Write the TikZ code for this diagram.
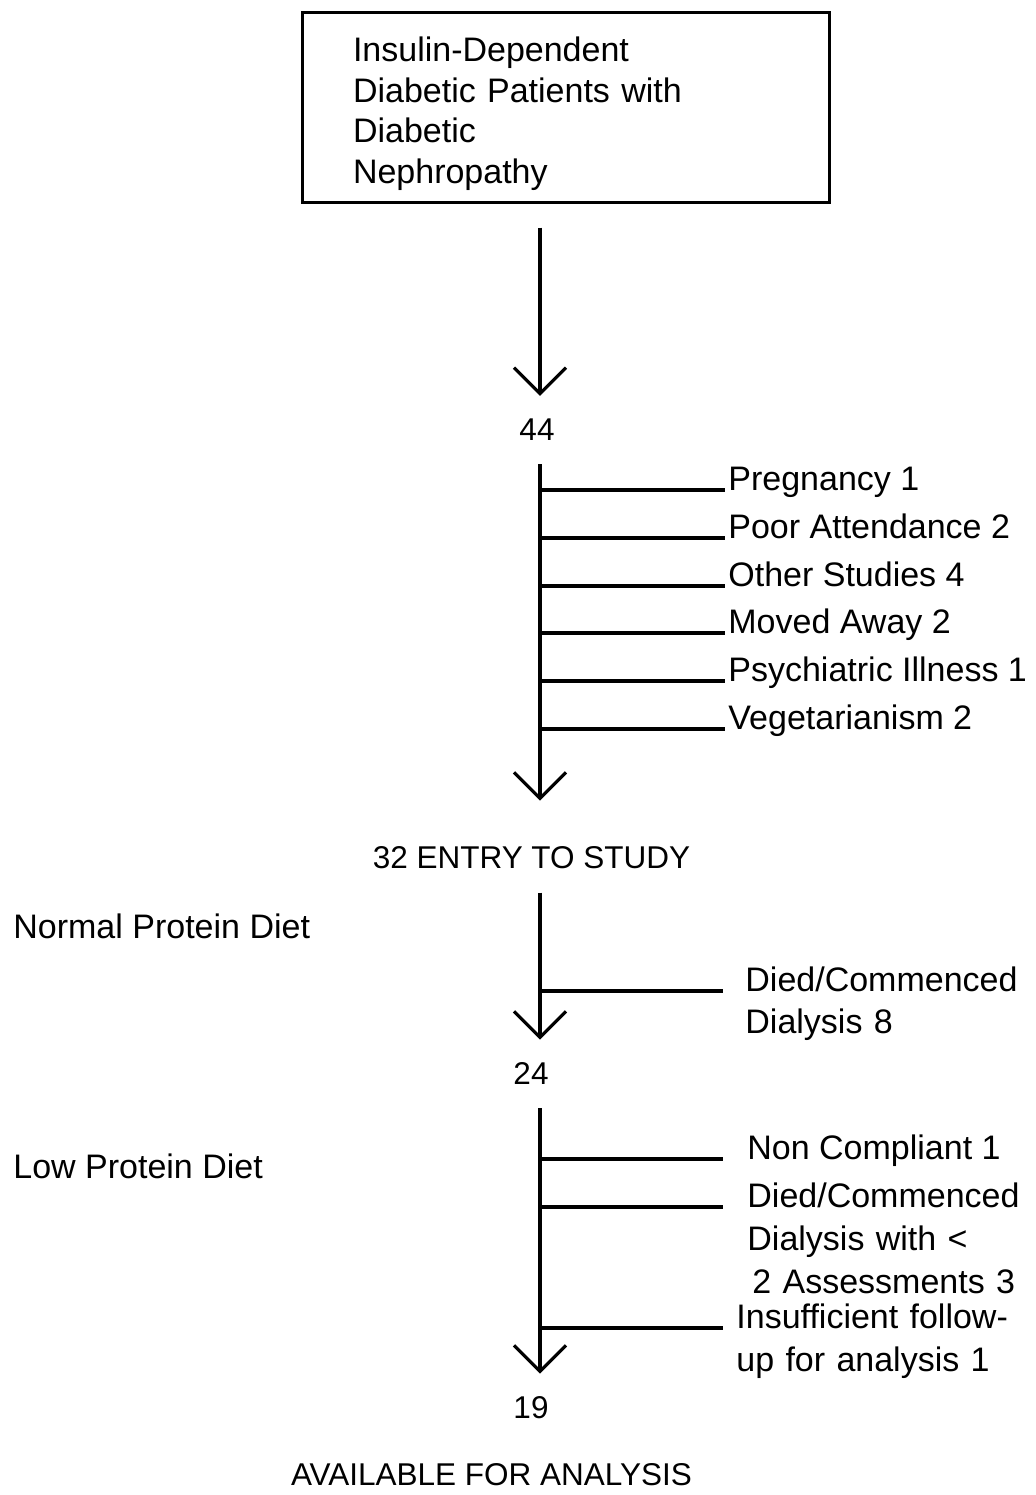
\documentclass[tikz,border=0pt]{standalone}
\usepackage{fontspec}
\setmainfont{Liberation Sans}
\usetikzlibrary{arrows.meta}

\begin{document}
\begin{tikzpicture}[
        x=0.5pt, y=-0.5pt,
        every node/.style={inner sep=0pt, font=\fontsize{17}{21}\selectfont},
        startbox/.style={draw, line width=1.5pt, text width=212.5pt, inner xsep=25.5pt, minimum height=95pt, align=left, text depth=58pt, font=\fontsize{17}{20.35}\selectfont},
        count/.style={anchor=base, font=\fontsize{15.75}{18}\selectfont},
        reason/.style={anchor=base west, inner xsep=1.5pt},
        reasonblock/.style={anchor=base west, align=left, text width=160pt},
        flow/.style={-{Straight Barb[length=13pt,width=26pt]}, line width=1.6pt, shorten <=12pt, shorten >=11pt},
        branch/.style={line width=1.8pt},
]
        \useasboundingbox (0,0) rectangle (1035,1495);
        \coordinate (axis) at (540,0);

        \node[startbox] (patients) at (565.5,107) {Insulin-Dependent\\Diabetic Patients with\\Diabetic\\Nephropathy};
        \node[count] (fortyfour) at (537,440) {44};

        \node[reason] (pregnancy) at (725,490) {Pregnancy 1};
        \node[reason] (attendance) at (725,538) {Poor Attendance 2};
        \node[reason] (otherstudies) at (725,586) {Other Studies 4};
        \node[reason] (movedaway) at (725,633) {Moved Away 2};
        \node[reason] (psychiatric) at (725,681) {Psychiatric Illness 1};
        \node[reason] (vegetarian) at (725,729) {Vegetarianism 2};

        \node[count] (entry) at (531.5,868) {32 ENTRY TO STUDY};
        \node[anchor=base west] (normaldiet) at (13,938) {Normal Protein Diet};
        \node[reasonblock, inner xsep=11pt] (diednormal) at (723,991) {Died/Commenced\\Dialysis 8};
        \node[count] (twentyfour) at (531,1084) {24};

        \node[anchor=base west] (lowdiet) at (13,1178) {Low Protein Diet};
        \node[reason, inner xsep=12pt] (noncompliant) at (723,1159) {Non Compliant 1};
        \node[reasonblock, inner xsep=12pt, font=\fontsize{17}{21.5}\selectfont] (diedlow) at (723,1207) {Died/Commenced\\Dialysis with <\\\hspace*{2.5pt}2 Assessments 3};
        \node[reasonblock, inner xsep=6.5pt, font=\fontsize{17}{21.5}\selectfont] (insufficient) at (723,1328) {Insufficient follow-\\up for analysis 1};
        \node[count] (nineteen) at (531,1418) {19};
        \node[count] (available) at (491.5,1485) {AVAILABLE FOR ANALYSIS};

        \draw[flow] (patients.south -| axis) -- (fortyfour.north -| axis);
        \draw[flow, shorten >=22.5pt] (fortyfour.south -| axis) -- (entry.north -| axis);
        \draw[flow] (entry.south -| axis) -- (twentyfour.north -| axis);
        \draw[flow] (twentyfour.south -| axis) -- (nineteen.north -| axis);

        \draw[branch] (pregnancy.base west -| axis) -- (pregnancy.base west);
        \draw[branch] (attendance.base west -| axis) -- (attendance.base west);
        \draw[branch] (otherstudies.base west -| axis) -- (otherstudies.base west);
        \draw[branch] (movedaway.base west -| axis) -- (movedaway.base west);
        \draw[branch] (psychiatric.base west -| axis) -- (psychiatric.base west);
        \draw[branch] (vegetarian.base west -| axis) -- (vegetarian.base west);
        \draw[branch] (diednormal.base west -| axis) -- (diednormal.base west);
        \draw[branch] (noncompliant.base west -| axis) -- (noncompliant.base west);
        \draw[branch] (diedlow.base west -| axis) -- (diedlow.base west);
        \draw[branch] (insufficient.base west -| axis) -- (insufficient.base west);
\end{tikzpicture}
\end{document}
